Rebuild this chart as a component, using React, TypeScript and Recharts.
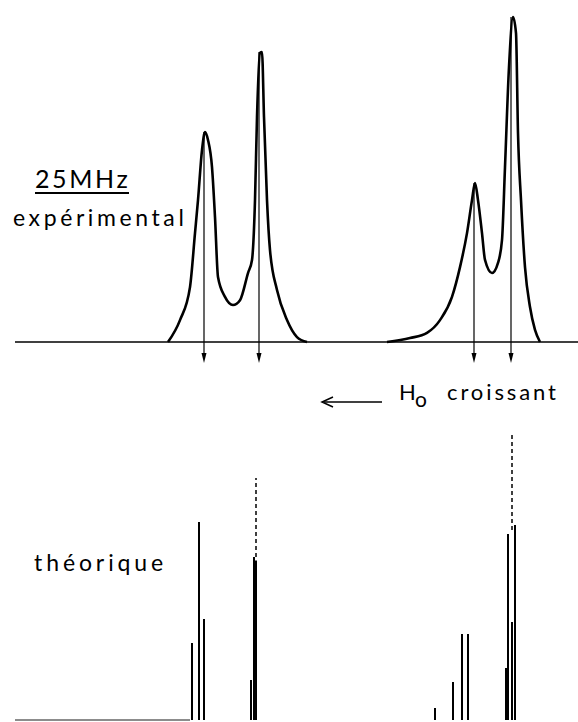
import React from 'react';
import { ComposedChart, Line, XAxis, YAxis, ReferenceLine, ReferenceDot } from 'recharts';

// experimental trace at 25 MHz: [field position, intensity] (peak 4 = ~100)
const leftGroup: [number, number][] = [
  [168, 0], [180, 6.7], [190, 16.8], [195, 33.3], [198, 43.4], [202, 58.7], [205, 64.2],
  [208, 61.8], [212, 53.5], [215, 38.2], [218, 19.9], [225, 13.8], [233, 11.3], [240, 12.8],
  [248, 21.1], [252, 25.1], [255, 43.4], [257, 68.8], [260, 88.4], [262, 88.7], [264, 68.8],
  [267, 43.4], [270, 28.1], [277, 15.9], [287, 6.7], [297, 1.5], [307, 0],
];
const rightGroup: [number, number][] = [
  [387, 0], [410, 1.2], [427, 2.8], [440, 6.7], [452, 13.8], [460, 22.9], [467, 33.3],
  [472, 43.4], [475, 48.6], [478, 43.4], [482, 33.3], [485, 25.1], [492, 21.1], [498, 24.2],
  [502, 31.2], [505, 53.5], [509, 84.1], [513, 99.4], [516, 94.5], [518, 63.9], [521, 43.4],
  [525, 22.9], [530, 10.7], [535, 3.7], [540, 0],
];

// arrows marking the experimental lines
const arrowPos = [204, 259, 474, 511];
const arrowTop = [64.2, 88.7, 48.6, 99.4];
const arrowTip = -6.4;

// theoretical stick spectrum
const stickPos = [192, 199, 204, 251, 254, 256, 435, 453, 462, 468, 506, 508, 512, 515];
const stickInt = [38.9, 100, 51, 20.2, 82.3, 80.5, 6.1, 19.2, 43.4, 43.4, 26.3, 93.9, 49.5, 98.5];
// dashed continuations (off-scale lines)
const dashPos = [256, 512];
const dashFrom = [82.3, 96];
const dashTo = [122.2, 145.5];

const toPts = (g: [number, number][]) => g.map(([x, v]) => ({ x, v }));
const font = 'Lato, "Open Sans", sans-serif';

const ArrowHead = (props: any) => {
  const { cx, cy } = props;
  return <path d={`M${cx - 2.5},${cy - 10} L${cx},${cy} L${cx + 2.5},${cy - 10} Z`} fill="#000" />;
};

export default function App() {
  return (
    <div style={{ position: 'absolute', left: 0, top: 0, width: 578, height: 722, background: '#fff' }}>
      <div style={{ position: 'absolute', left: 0, top: 0 }}>
        <ComposedChart width={578} height={370} margin={{ top: 0, right: 0, bottom: 0, left: 0 }}>
          <XAxis type="number" dataKey="x" domain={[0, 578]} hide allowDataOverflow />
          <YAxis type="number" domain={[-8.56, 104.6]} hide allowDataOverflow />
          <ReferenceLine segment={[{ x: 15, y: 0 }, { x: 578, y: 0 }]} stroke="#000" strokeWidth={1.5} />
          {arrowPos.map((x, i) => (
            <ReferenceLine key={`a${i}`} segment={[{ x, y: arrowTop[i] }, { x, y: arrowTip + 2 }]} stroke="#000" strokeWidth={1.2} />
          ))}
          {arrowPos.map((x, i) => (
            <ReferenceDot key={`h${i}`} x={x} y={arrowTip} shape={<ArrowHead />} />
          ))}
          <Line data={toPts(leftGroup)} dataKey="v" type="monotone" stroke="#000" strokeWidth={2.6} dot={false} activeDot={false} isAnimationActive={false} />
          <Line data={toPts(rightGroup)} dataKey="v" type="monotone" stroke="#000" strokeWidth={2.6} dot={false} activeDot={false} isAnimationActive={false} />
        </ComposedChart>
      </div>
      <div style={{ position: 'absolute', left: 0, top: 420 }}>
        <ComposedChart width={578} height={302} margin={{ top: 0, right: 0, bottom: 0, left: 0 }}>
          <XAxis type="number" dataKey="x" domain={[0, 578]} hide allowDataOverflow />
          <YAxis type="number" domain={[-1, 151.5]} hide allowDataOverflow />
          <ReferenceLine segment={[{ x: 15, y: 0 }, { x: 190, y: 0 }]} stroke="#666" strokeWidth={1.5} />
          {stickPos.map((x, i) => (
            <ReferenceLine key={`s${i}`} segment={[{ x, y: 0 }, { x, y: stickInt[i] }]} stroke="#000" strokeWidth={2} />
          ))}
          {dashPos.map((x, i) => (
            <ReferenceLine key={`d${i}`} segment={[{ x, y: dashFrom[i] }, { x, y: dashTo[i] }]} stroke="#000" strokeWidth={1.5} strokeDasharray="4 3" />
          ))}
        </ComposedChart>
      </div>
      <svg width={578} height={722} style={{ position: 'absolute', left: 0, top: 0, pointerEvents: 'none' }}>
        <g fontFamily={font} fill="#000">
          <text x={35} y={188} fontSize={25} letterSpacing={2.6}>25MHz</text>
          <line x1={35} y1={193} x2={129} y2={193} stroke="#000" strokeWidth={2} />
          <text x={13} y={226} fontSize={23} letterSpacing={3.6}>expérimental</text>
          <line x1={324} y1={402} x2={382} y2={402} stroke="#000" strokeWidth={1.5} />
          <path d="M333,397 L322,402 L333,407" fill="none" stroke="#000" strokeWidth={1.5} />
          <text x={399} y={400} fontSize={22}>H</text>
          <text x={415} y={407} fontSize={21}>o</text>
          <text x={447} y={400} fontSize={22} letterSpacing={2.9}>croissant</text>
          <text x={34} y={571} fontSize={23} letterSpacing={3.9}>théorique</text>
        </g>
      </svg>
    </div>
  );
}
